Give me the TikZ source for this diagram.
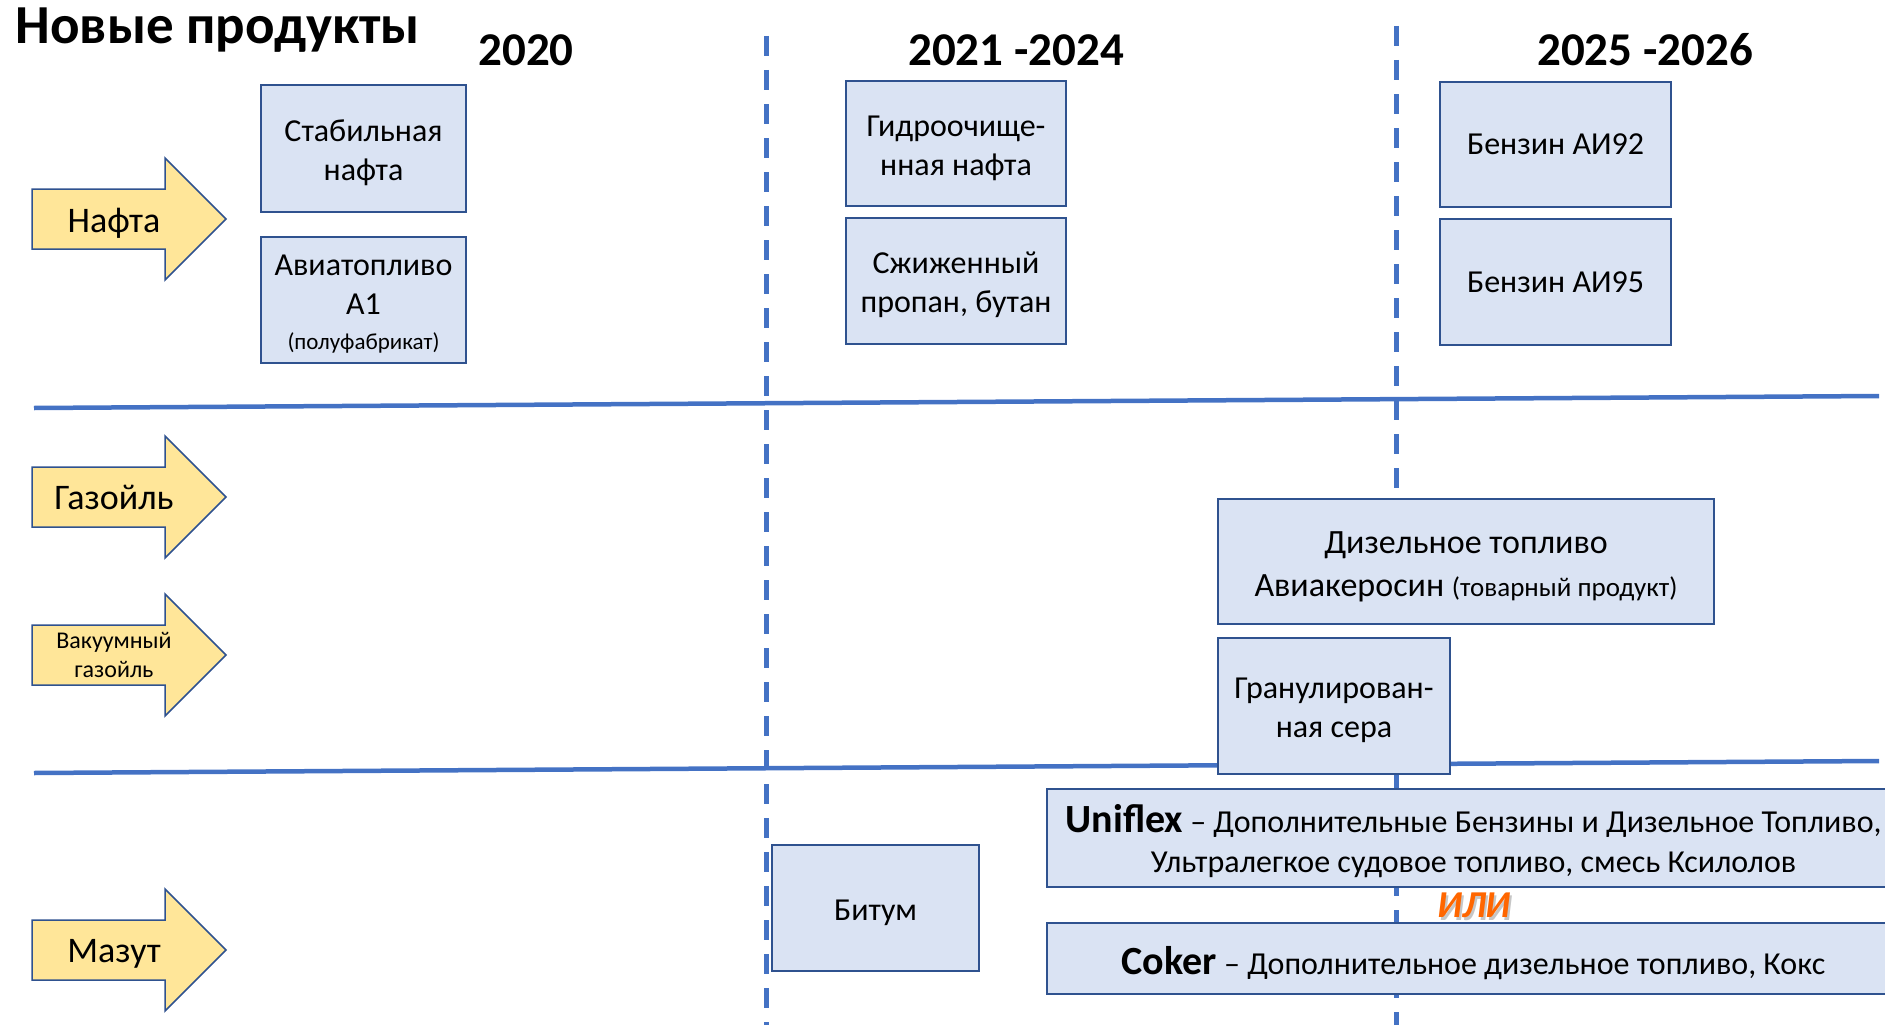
\documentclass[tikz,border=0pt]{standalone}
\usepackage{fontspec}
\setmainfont{Carlito}
\usetikzlibrary{calc}
\definecolor{lineblue}{HTML}{4472C4}
\definecolor{boxfill}{HTML}{DAE3F3}
\definecolor{boxdraw}{HTML}{2F528F}
\definecolor{arrfill}{HTML}{FFE699}
\definecolor{ilicol}{HTML}{FF6600}
\newcommand\txtlift[1][0.93em]{\rule{0pt}{#1}}
\tikzset{
  prodbox/.style={draw=boxdraw, fill=boxfill, line width=2pt, align=center,
    inner sep=0pt, font=\fontsize{32}{39}\selectfont},
  feed/.style={draw=boxdraw, fill=arrfill, line width=1.5pt, line join=miter},
  yearlbl/.style={anchor=base, font=\bfseries\fontsize{47}{56}\selectfont},
  sepline/.style={lineblue, line width=4.5pt},
  periodline/.style={lineblue, line width=5pt, dash pattern=on 20pt off 14pt}
}
\begin{document}
\begin{tikzpicture}[x=1pt, y=-1pt]
  \useasboundingbox (0,0) rectangle (1885,1025);
  \def\bw{30}   % arrow body half height
  \def\hw{61}   % arrow head half height

  % Title and periods
  \node[anchor=base west, font=\bfseries\fontsize{55}{62}\selectfont] (title) at (12,44) {Новые продукты};
  \node[yearlbl] (y2020) at (526,66) {2020};
  \node[yearlbl] (y2021) at (1016,66) {2021 -2024};
  \node[yearlbl] (y2025) at (1645,66) {2025 -2026};

  % Dashed period borders
  \foreach \x/\top in {766/36, 1396/26}
    \draw[periodline] (\x,\top) -- (\x,1025);

  % Group separators (slightly tilted)
  \draw[sepline] (34,408) -- (1879,396);
  \draw[sepline] (34,773) -- (1879,761);

  % Feed arrows
  \foreach \y/\ty/\nm/\fs/\ls/\txt in {219/223/nafta/36/43/{Нафта}, 497/497/gasoil/36/43/{Газойль},
                                       655/655/vgo/24/29/{Вакуумный\\газойль}, 950/954/mazut/36/43/{Мазут}} {
    \draw[feed] (32,{\y-\bw}) -- (165,{\y-\bw}) -- (165,{\y-\hw}) -- (226,\y)
      -- (165,{\y+\hw}) -- (165,{\y+\bw}) -- (32,{\y+\bw}) -- cycle;
    \node[align=center, font=\fontsize{\fs}{\ls}\selectfont] (\nm) at (114,\ty) {\txt};
  }

  % 2020
  \node[prodbox, minimum width=205, minimum height=127] (stab) at (363.5,148.5) {\txtlift Стабильная\\нафта};
  \node[prodbox, minimum width=205, minimum height=126] (avia) at (363.5,300)
    {\txtlift Авиатопливо\\A1\\[-4pt]{\fontsize{23}{28}\selectfont(полуфабрикат)}};

  % 2021 - 2024
  \node[prodbox, minimum width=220, minimum height=125] (hydro) at (956,143.5) {\txtlift Гидроочище-\\нная нафта};
  \node[prodbox, minimum width=220, minimum height=126] (lpg) at (956,281) {\txtlift Сжиженный\\пропан, бутан};
  \node[prodbox, minimum width=207, minimum height=126] (bitum) at (875.5,908) {\txtlift[0.97em]Битум};

  % 2025 - 2026
  \node[prodbox, minimum width=231, minimum height=125] (ai92) at (1555.5,144.5) {Бензин АИ92};
  \node[prodbox, minimum width=231, minimum height=126] (ai95) at (1555.5,282) {Бензин АИ95};
  \node[prodbox, minimum width=496, minimum height=125, font=\fontsize{34}{43}\selectfont] (diesel) at (1466,561.5)
    {\txtlift Дизельное топливо\\Авиакеросин {\fontsize{27}{30}\selectfont(товарный продукт)}};
  \node[prodbox, minimum width=232, minimum height=136] (sulfur) at (1334,706) {\txtlift Гранулирован-\\ная сера};

  % Heavy residue options
  \node[prodbox, minimum width=853, minimum height=98, font=\fontsize{32}{40}\selectfont] (uniflex) at (1473.5,838)
    {\txtlift[35pt]{\bfseries\fontsize{40}{40}\selectfont Uniflex} -- Дополнительные Бензины и Дизельное Топливо,\\
     Ультралегкое судовое топливо, смесь Ксилолов};
  \node[font=\bfseries\itshape\fontsize{38}{40}\selectfont, text=gray!45] at (1476,908) {ИЛИ};
  \node[font=\bfseries\itshape\fontsize{38}{40}\selectfont, text=ilicol] (ili) at (1474,905) {ИЛИ};
  \node[prodbox, minimum width=853, minimum height=71, font=\fontsize{32}{40}\selectfont] (coker) at (1473.5,958.5)
    {\txtlift[38pt]{\bfseries\fontsize{40}{40}\selectfont Coker} -- Дополнительное дизельное топливо, Кокс};
\end{tikzpicture}
\end{document}
